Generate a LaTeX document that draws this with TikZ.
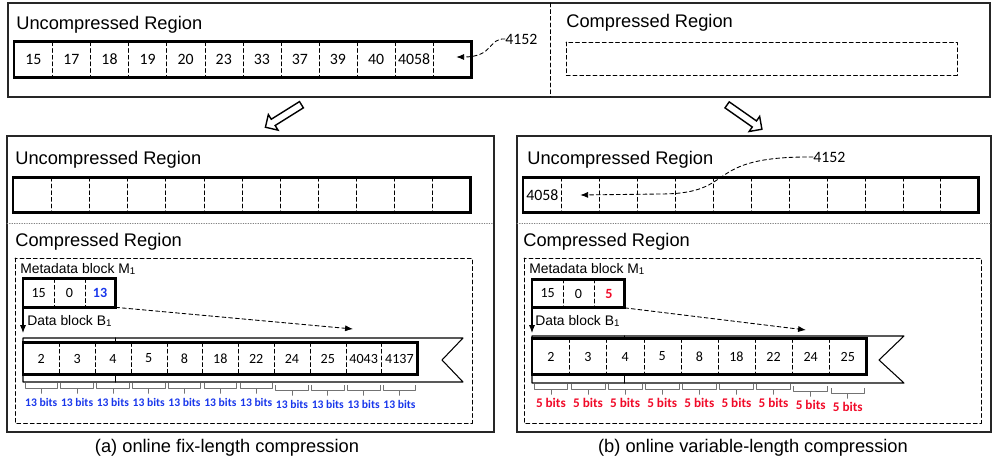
\documentclass[tikz,border=0pt]{standalone}
\usepackage{fontspec}
\setmainfont{Liberation Sans}
\newfontfamily\cellfont{Carlito}
\usetikzlibrary{positioning,calc,arrows.meta,shapes.arrows}
\definecolor{bitblue}{RGB}{25,55,235}
\definecolor{bitred}{RGB}{240,10,40}

\begin{document}
\begin{tikzpicture}[x=0.02cm,y=-0.02cm,line cap=round,line join=round,
    regiontext/.style={anchor=west,inner sep=0pt,font=\fontsize{10.4}{12}\selectfont},
    blocktext/.style={anchor=west,inner sep=0pt,font=\fontsize{7.9}{9}\selectfont},
    cell/.style={anchor=west,inner sep=0pt,minimum width=0.76cm,minimum height=0.69cm,
      font=\cellfont\fontsize{9}{10}\selectfont},
    metacell/.style={cell,minimum width=0.613cm,minimum height=0.56cm,
      font=\cellfont\fontsize{8}{9}\selectfont},
    datacell/.style={cell,minimum width=0.716cm,minimum height=0.62cm,
      font=\cellfont\fontsize{8}{9}\selectfont},
    bits/.style={inner sep=0pt,font=\cellfont\bfseries\fontsize{6.6}{7}\selectfont},
    outline/.style={line width=1.6pt,line cap=butt,line join=miter},
    divider/.style={dash pattern=on 2.2pt off 1.6pt,line width=0.5pt},
    framebox/.style={thick,black!85,line join=miter},
    splitline/.style={densely dotted,black!50,line width=0.4pt},
    bitbrace/.style={black!55,line width=0.4pt},
    pointer/.style={-{Latex[length=4.5pt,width=3.5pt]}},
    bigarrow/.style={single arrow,draw,thick,fill=white,inner sep=1.7pt,
      minimum height=0.85cm,single arrow head extend=0.11cm,line join=miter}]
  \useasboundingbox (0,0) rectangle (994,463);

  %% Memory before compression.
  \draw[framebox] (8,3) rectangle (990,97);
  \draw[divider] (550,3) -- (550,97);
  \node[regiontext] (tunc) at (16,25) {Uncompressed Region};
  \node[regiontext] (tcom) at (566,23) {Compressed Region};
  \draw[divider] (566,42) rectangle (957,75);
  \foreach \val [count=\i] in {15,17,18,19,20,23,33,37,39,40,4058,{}}
    \node[cell] (tu\i) at ({14+(\i-1)*38.08},59.5) {\val};
  \foreach \i in {1,...,11}
    \draw[divider] (tu\i.north east) -- (tu\i.south east);
  \draw[outline] (tu1.north west) rectangle (tu12.south east);
  \node[cell,minimum width=0pt] (t4152) at (505,39) {4152};
  \coordinate (ttip) at ($(tu12.center)+(4,-2.5)$);
  \draw[divider,pointer] (t4152.west) .. controls (488,38) and (494,57) .. (ttip);

  % Hollow arrows down to both cases
  \node[bigarrow,rotate=212] (lgo) at (285,115) {};
  \node[bigarrow,rotate=-35] (rgo) at (743,116) {};

  %% Left panel: fix-length compression.
  \draw[framebox] (7,136) rectangle (494,432);
  \node[regiontext] (lunc) at (15,160) {Uncompressed Region};
  \foreach \i in {1,...,12}
    \node[cell] (lu\i) at ({13+(\i-1)*38.08},195) {};
  \foreach \i in {1,...,11}
    \draw[divider] (lu\i.north east) -- (lu\i.south east);
  \draw[outline] (lu1.north west) rectangle (lu12.south east);
  \draw[splitline] (7,223) -- (494,223);
  \node[regiontext] (lcom) at (15,242) {Compressed Region};
  \draw[divider] (15,258) rectangle (472,423);

  % Metadata block
  \node[blocktext] (lmeta) at (20,269) {Metadata block M\textsubscript{1}};
  \foreach \val [count=\i] in {15,0,{\textcolor{bitblue}{\bfseries 13}}}
    \node[metacell] (lm\i) at ({23+(\i-1)*30.67},293) {\val};
  \foreach \i in {1,2}
    \draw[divider] (lm\i.north east) -- (lm\i.south east);
  \draw[outline] (lm1.north west) rectangle (lm3.south east);

  % Data block
  \node[blocktext] (ldata) at (27,321) {Data block B\textsubscript{1}};
  \path (23,338) coordinate (lbtl) (463,338) coordinate (lbtr) (442,360) coordinate (lbn)
    (463,382) coordinate (lbbr) (23,382) coordinate (lbbl);
  \draw[semithick] (lbtl) -- (lbtr) -- (lbn) -- (lbbr) -- (lbbl) -- cycle;
  \foreach \val [count=\i] in {2,3,4,5,8,18,22,24,25,4043,4137}
    \node[datacell] (ld\i) at ({23+(\i-1)*35.82},358.5) {\val};
  \draw[semithick] (lm3.east |- lbtl) -- (lm3.east |- ld1.north)
    (lm3.east |- ld1.south) -- (lm3.east |- lbbl);
  \foreach \i in {1,...,10}
    \draw[divider] (ld\i.north east) -- (ld\i.south east);
  \draw[outline] (ld1.north west) rectangle (ld11.south east);
  \coordinate (ldown) at (23,333);
  \draw[semithick,pointer] (lm1.south west) -- (ldown);
  \coordinate (lgoal) at (353,329);
  \draw[divider,pointer] (lm3.south east) -- (lgoal);
  \foreach \i in {1,...,11} {
    \pgfmathsetmacro\dy{\i>7 ? 2 : 0}
    \draw[bitbrace] ($(ld\i.south west)+(2,9+\dy)$) |- ($(ld\i.south)+(0,14+\dy)$) -- +(0,5)
      ($(ld\i.south)+(0,14+\dy)$) -| ($(ld\i.south east)+(-2,9+\dy)$);
    \node[bits,text=bitblue] (lb\i) at ($(ld\i.south)+(0,28+\dy)$) {13 bits};
  }

  %% Right panel: variable-length compression.
  \draw[framebox] (517,136) rectangle (991,432);
  \node[regiontext] (runc) at (527,160) {Uncompressed Region};
  \foreach \i in {1,...,12}
    \node[cell] (ru\i) at ({523+(\i-1)*37.92},195) {\ifnum\i=1 4058\fi};
  \foreach \i in {1,...,11}
    \draw[divider] (ru\i.north east) -- (ru\i.south east);
  \draw[outline] (ru1.north west) rectangle (ru12.south east);
  \node[cell,minimum width=0pt] (r4152) at (813,157) {4152};
  \draw[divider,pointer] (r4152.west) .. controls (700,156) and (740,194) .. (660,194)
    -- (ru2.center);
  \draw[splitline] (517,223) -- (991,223);
  \node[regiontext] (rcom) at (523,242) {Compressed Region};
  \draw[divider] (524,258) rectangle (981,423);

  % Metadata block
  \node[blocktext] (rmeta) at (529,269) {Metadata block M\textsubscript{1}};
  \foreach \val [count=\i] in {15,0,{\textcolor{bitred}{\bfseries 5}}}
    \node[metacell] (rm\i) at ({532+(\i-1)*30.67},293.5) {\val};
  \foreach \i in {1,2}
    \draw[divider] (rm\i.north east) -- (rm\i.south east);
  \draw[outline] (rm1.north west) rectangle (rm3.south east);

  % Data block
  \node[blocktext] (rdata) at (535,321) {Data block B\textsubscript{1}};
  \path (532,336) coordinate (rbtl) (904,336) coordinate (rbtr) (879,360) coordinate (rbn)
    (904,383) coordinate (rbbr) (532,383) coordinate (rbbl);
  \draw[semithick] (rbtl) -- (rbtr) -- (rbn) -- (rbbr) -- (rbbl) -- cycle;
  \foreach \val [count=\i] in {2,3,4,5,8,18,22,24,25}
    \node[datacell,minimum width=0.742cm,minimum height=0.7cm] (rd\i) at ({532+(\i-1)*37.11},356.5) {\val};
  \draw[semithick] (rm3.east |- rbtl) -- (rm3.east |- rd1.north)
    (rm3.east |- rd1.south) -- (rm3.east |- rbbl);
  \foreach \i in {1,...,8}
    \draw[divider] (rd\i.north east) -- (rd\i.south east);
  \draw[outline] (rd1.north west) rectangle (rd9.south east);
  \coordinate (rdown) at (532,333);
  \draw[semithick,pointer] (rm1.south west) -- (rdown);
  \coordinate (rgoal) at (806,330);
  \draw[divider,pointer] (rm3.south east) -- (rgoal);
  \foreach \i in {1,...,9} {
    \pgfmathsetmacro\dy{\i>7 ? (\i-7)*2 : 0}
    \draw[bitbrace] ($(rd\i.south west)+(2,10+\dy)$) |- ($(rd\i.south)+(0,15+\dy)$) -- +(0,5)
      ($(rd\i.south)+(0,15+\dy)$) -| ($(rd\i.south east)+(-2,10+\dy)$);
    \node[bits,text=bitred,font=\cellfont\bfseries\fontsize{7.5}{8}\selectfont] (rb\i)
      at ($(rd\i.south)+(0,29+\dy)$) {5 bits};
  }

  % Captions
  \node[font=\fontsize{10.4}{12}\selectfont] (capa) at (227,448) {(a) online fix-length compression};
  \node[font=\fontsize{10.4}{12}\selectfont] (capb) at (753,448) {(b) online variable-length compression};
\end{tikzpicture}
\end{document}
